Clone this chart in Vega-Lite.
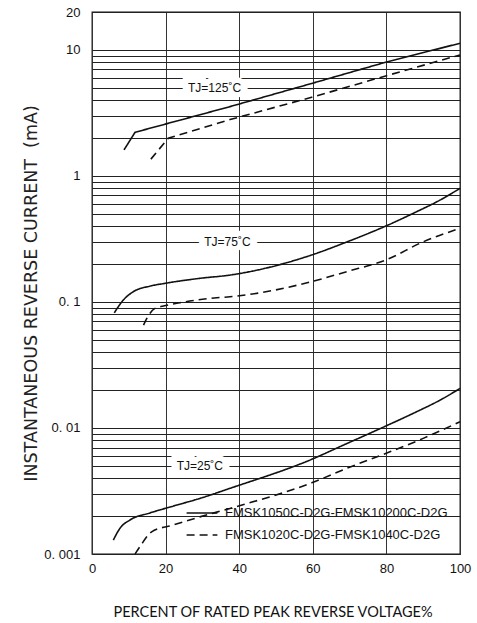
{
  "$schema": "https://vega.github.io/schema/vega-lite/v6.json",
  "autosize": "none",
  "width": 368,
  "height": 542,
  "padding": {"left": 92, "top": 12, "right": 17, "bottom": 69},
  "background": "white",
  "datasets": {
    "curves": [
      {"curve": "125s", "shape": "straight", "series": "FMSK1050C-D2G-FMSK10200C-D2G", "x": 8.7, "y": 1.61},
      {"curve": "125s", "shape": "straight", "series": "FMSK1050C-D2G-FMSK10200C-D2G", "x": 11.7, "y": 2.22},
      {"curve": "125s", "shape": "straight", "series": "FMSK1050C-D2G-FMSK10200C-D2G", "x": 37.5, "y": 3.55},
      {"curve": "125s", "shape": "straight", "series": "FMSK1050C-D2G-FMSK10200C-D2G", "x": 59.7, "y": 5.42},
      {"curve": "125s", "shape": "straight", "series": "FMSK1050C-D2G-FMSK10200C-D2G", "x": 79.8, "y": 7.99},
      {"curve": "125s", "shape": "straight", "series": "FMSK1050C-D2G-FMSK10200C-D2G", "x": 100, "y": 11.3},
      {"curve": "125d", "shape": "straight", "series": "FMSK1020C-D2G-FMSK1040C-D2G", "x": 16.0, "y": 1.36},
      {"curve": "125d", "shape": "straight", "series": "FMSK1020C-D2G-FMSK1040C-D2G", "x": 20.7, "y": 1.99},
      {"curve": "125d", "shape": "straight", "series": "FMSK1020C-D2G-FMSK1040C-D2G", "x": 37.5, "y": 2.8},
      {"curve": "125d", "shape": "straight", "series": "FMSK1020C-D2G-FMSK1040C-D2G", "x": 59.7, "y": 4.21},
      {"curve": "125d", "shape": "straight", "series": "FMSK1020C-D2G-FMSK1040C-D2G", "x": 79.8, "y": 6.22},
      {"curve": "125d", "shape": "straight", "series": "FMSK1020C-D2G-FMSK1040C-D2G", "x": 100, "y": 9.13},
      {"curve": "75s", "shape": "smooth", "series": "FMSK1050C-D2G-FMSK10200C-D2G", "x": 6.06, "y": 0.082},
      {"curve": "75s", "shape": "smooth", "series": "FMSK1050C-D2G-FMSK10200C-D2G", "x": 8.5, "y": 0.1035},
      {"curve": "75s", "shape": "smooth", "series": "FMSK1050C-D2G-FMSK10200C-D2G", "x": 11.2, "y": 0.1205},
      {"curve": "75s", "shape": "smooth", "series": "FMSK1050C-D2G-FMSK10200C-D2G", "x": 15.8, "y": 0.1337},
      {"curve": "75s", "shape": "smooth", "series": "FMSK1050C-D2G-FMSK10200C-D2G", "x": 19.8, "y": 0.1405},
      {"curve": "75s", "shape": "smooth", "series": "FMSK1050C-D2G-FMSK10200C-D2G", "x": 29.3, "y": 0.154},
      {"curve": "75s", "shape": "smooth", "series": "FMSK1050C-D2G-FMSK10200C-D2G", "x": 37.5, "y": 0.1635},
      {"curve": "75s", "shape": "smooth", "series": "FMSK1050C-D2G-FMSK10200C-D2G", "x": 59.7, "y": 0.236},
      {"curve": "75s", "shape": "smooth", "series": "FMSK1050C-D2G-FMSK10200C-D2G", "x": 68.3, "y": 0.292},
      {"curve": "75s", "shape": "smooth", "series": "FMSK1050C-D2G-FMSK10200C-D2G", "x": 79.8, "y": 0.40},
      {"curve": "75s", "shape": "smooth", "series": "FMSK1050C-D2G-FMSK10200C-D2G", "x": 88.2, "y": 0.52},
      {"curve": "75s", "shape": "smooth", "series": "FMSK1050C-D2G-FMSK10200C-D2G", "x": 94.6, "y": 0.644},
      {"curve": "75s", "shape": "smooth", "series": "FMSK1050C-D2G-FMSK10200C-D2G", "x": 100, "y": 0.797},
      {"curve": "75d", "shape": "smooth", "series": "FMSK1020C-D2G-FMSK1040C-D2G", "x": 14.0, "y": 0.0656},
      {"curve": "75d", "shape": "smooth", "series": "FMSK1020C-D2G-FMSK1040C-D2G", "x": 14.9, "y": 0.0741},
      {"curve": "75d", "shape": "smooth", "series": "FMSK1020C-D2G-FMSK1040C-D2G", "x": 17.1, "y": 0.0889},
      {"curve": "75d", "shape": "smooth", "series": "FMSK1020C-D2G-FMSK1040C-D2G", "x": 19.4, "y": 0.0928},
      {"curve": "75d", "shape": "smooth", "series": "FMSK1020C-D2G-FMSK1040C-D2G", "x": 23.9, "y": 0.0986},
      {"curve": "75d", "shape": "smooth", "series": "FMSK1020C-D2G-FMSK1040C-D2G", "x": 33.9, "y": 0.108},
      {"curve": "75d", "shape": "smooth", "series": "FMSK1020C-D2G-FMSK1040C-D2G", "x": 37.5, "y": 0.110},
      {"curve": "75d", "shape": "smooth", "series": "FMSK1020C-D2G-FMSK1040C-D2G", "x": 59.7, "y": 0.145},
      {"curve": "75d", "shape": "smooth", "series": "FMSK1020C-D2G-FMSK1040C-D2G", "x": 69.2, "y": 0.174},
      {"curve": "75d", "shape": "smooth", "series": "FMSK1020C-D2G-FMSK1040C-D2G", "x": 79.8, "y": 0.215},
      {"curve": "75d", "shape": "smooth", "series": "FMSK1020C-D2G-FMSK1040C-D2G", "x": 90.0, "y": 0.30},
      {"curve": "75d", "shape": "smooth", "series": "FMSK1020C-D2G-FMSK1040C-D2G", "x": 100, "y": 0.384},
      {"curve": "25s", "shape": "smooth", "series": "FMSK1050C-D2G-FMSK10200C-D2G", "x": 5.8, "y": 0.00129},
      {"curve": "25s", "shape": "smooth", "series": "FMSK1050C-D2G-FMSK10200C-D2G", "x": 7.6, "y": 0.0016},
      {"curve": "25s", "shape": "smooth", "series": "FMSK1050C-D2G-FMSK10200C-D2G", "x": 10.3, "y": 0.00186},
      {"curve": "25s", "shape": "smooth", "series": "FMSK1050C-D2G-FMSK10200C-D2G", "x": 15.8, "y": 0.00212},
      {"curve": "25s", "shape": "smooth", "series": "FMSK1050C-D2G-FMSK10200C-D2G", "x": 22.1, "y": 0.0024},
      {"curve": "25s", "shape": "smooth", "series": "FMSK1050C-D2G-FMSK10200C-D2G", "x": 29.3, "y": 0.00276},
      {"curve": "25s", "shape": "smooth", "series": "FMSK1050C-D2G-FMSK10200C-D2G", "x": 37.5, "y": 0.00332},
      {"curve": "25s", "shape": "smooth", "series": "FMSK1050C-D2G-FMSK10200C-D2G", "x": 59.7, "y": 0.00564},
      {"curve": "25s", "shape": "smooth", "series": "FMSK1050C-D2G-FMSK10200C-D2G", "x": 68.3, "y": 0.00731},
      {"curve": "25s", "shape": "smooth", "series": "FMSK1050C-D2G-FMSK10200C-D2G", "x": 79.8, "y": 0.01035},
      {"curve": "25s", "shape": "smooth", "series": "FMSK1050C-D2G-FMSK10200C-D2G", "x": 88.2, "y": 0.01345},
      {"curve": "25s", "shape": "smooth", "series": "FMSK1050C-D2G-FMSK10200C-D2G", "x": 94.6, "y": 0.01665},
      {"curve": "25s", "shape": "smooth", "series": "FMSK1050C-D2G-FMSK10200C-D2G", "x": 100, "y": 0.0206},
      {"curve": "25d", "shape": "smooth", "series": "FMSK1020C-D2G-FMSK1040C-D2G", "x": 11.7, "y": 0.001},
      {"curve": "25d", "shape": "smooth", "series": "FMSK1020C-D2G-FMSK1040C-D2G", "x": 13.0, "y": 0.00114},
      {"curve": "25d", "shape": "smooth", "series": "FMSK1020C-D2G-FMSK1040C-D2G", "x": 16.2, "y": 0.0015},
      {"curve": "25d", "shape": "smooth", "series": "FMSK1020C-D2G-FMSK1040C-D2G", "x": 22.1, "y": 0.0017},
      {"curve": "25d", "shape": "smooth", "series": "FMSK1020C-D2G-FMSK1040C-D2G", "x": 29.3, "y": 0.00197},
      {"curve": "25d", "shape": "smooth", "series": "FMSK1020C-D2G-FMSK1040C-D2G", "x": 37.5, "y": 0.0023},
      {"curve": "25d", "shape": "smooth", "series": "FMSK1020C-D2G-FMSK1040C-D2G", "x": 59.7, "y": 0.00367},
      {"curve": "25d", "shape": "smooth", "series": "FMSK1020C-D2G-FMSK1040C-D2G", "x": 69.2, "y": 0.00478},
      {"curve": "25d", "shape": "smooth", "series": "FMSK1020C-D2G-FMSK1040C-D2G", "x": 79.8, "y": 0.00628},
      {"curve": "25d", "shape": "smooth", "series": "FMSK1020C-D2G-FMSK1040C-D2G", "x": 90.0, "y": 0.00827},
      {"curve": "25d", "shape": "smooth", "series": "FMSK1020C-D2G-FMSK1040C-D2G", "x": 100, "y": 0.0112}
    ],
    "labels": [
      {"x": 33.3, "y": 5.0, "text": "TJ=125˚C"},
      {"x": 36.8, "y": 0.3, "text": "TJ=75˚C"},
      {"x": 29.3, "y": 0.005, "text": "TJ=25˚C"}
    ]
  },
  "encoding": {
    "x": {
      "type": "quantitative",
      "scale": {"domain": [0, 100], "nice": false, "zero": false},
      "axis": {
        "values": [0, 20, 40, 60, 80, 100],
        "title": "PERCENT OF RATED PEAK REVERSE VOLTAGE%",
        "titleFont": "Lato",
        "titleFontSize": 14.5,
        "titleFontWeight": "normal",
        "titleColor": "#111",
        "titleX": 180.5,
        "titleY": 62,
        "titleBaseline": "alphabetic",
        "labelFont": "Liberation Sans",
        "labelFontSize": 13,
        "labelColor": "#111",
        "labelPadding": 8,
        "labelFlush": false,
        "labelOverlap": false,
        "ticks": false,
        "domain": false,
        "grid": true,
        "gridColor": "#333",
        "gridWidth": 1
      }
    },
    "y": {
      "type": "quantitative",
      "scale": {"type": "log", "domain": [0.001, 20], "nice": false},
      "axis": {
        "values": [0.001, 0.002, 0.003, 0.004, 0.005, 0.006, 0.007, 0.008, 0.009,
                   0.01, 0.02, 0.03, 0.04, 0.05, 0.06, 0.07, 0.08, 0.09,
                   0.1, 0.2, 0.3, 0.4, 0.5, 0.6, 0.7, 0.8, 0.9,
                   1, 2, 3, 4, 5, 6, 7, 8, 9, 10, 20],
        "labelExpr": "datum.value == 0.001 ? '0. 001' : datum.value == 0.01 ? '0. 01' : datum.value == 0.1 ? '0. 1' : datum.value == 1 ? '1' : datum.value == 10 ? '10' : datum.value == 20 ? '20' : ''",
        "title": "INSTANTANEOUS REVERSE CURRENT\u00a0\u00a0(mA)",
        "titleFont": "DejaVu Sans",
        "titleFontSize": 17.5,
        "titleFontWeight": "normal",
        "titleColor": "#222",
        "titleX": -56,
        "titleY": 281,
        "titleAngle": 270,
        "titleBaseline": "alphabetic",
        "titleAlign": "center",
        "labelFont": "Liberation Sans",
        "labelFontSize": 13,
        "labelColor": "#111",
        "labelPadding": 12,
        "labelFlush": false,
        "labelOverlap": false,
        "labelBound": false,
        "ticks": false,
        "domain": false,
        "grid": true,
        "gridColor": "#222",
        "gridWidth": 1
      }
    }
  },
  "layer": [
    {
      "mark": {"type": "rect", "fill": "white", "stroke": null},
      "encoding": {
        "x": {"datum": 19.3},
        "x2": {"datum": 100},
        "y": {"datum": 0.001},
        "y2": {"datum": 0.00258}
      }
    },
    {
      "data": {"name": "curves"},
      "transform": [{"filter": "datum.shape == 'straight'"}],
      "mark": {"type": "line", "interpolate": "linear", "color": "#111", "strokeWidth": 1.6},
      "encoding": {
        "x": {"field": "x", "type": "quantitative"},
        "y": {"field": "y", "type": "quantitative"},
        "detail": {"field": "curve"},
        "strokeDash": {
          "field": "series",
          "type": "nominal",
          "sort": null,
          "scale": {
            "domain": ["FMSK1050C-D2G-FMSK10200C-D2G", "FMSK1020C-D2G-FMSK1040C-D2G"],
            "range": [[1, 0], [8, 5]]
          },
          "legend": {
            "title": null,
            "orient": "bottom-right",
            "offset": 0,
            "padding": 12,
            "fillColor": null,
            "strokeColor": null,
            "symbolType": "M-0.4,0H2.4",
            "symbolSize": 484,
            "symbolStrokeWidth": 1.5,
            "symbolStrokeColor": "#111",
            "rowPadding": 3,
            "labelOffset": 22,
            "labelFont": "Liberation Sans",
            "labelFontSize": 13,
            "labelColor": "#111",
            "labelLimit": 400
          }
        }
      }
    },
    {
      "data": {"name": "curves"},
      "transform": [{"filter": "datum.shape == 'smooth'"}],
      "mark": {"type": "line", "interpolate": "monotone", "color": "#111", "strokeWidth": 1.6},
      "encoding": {
        "x": {"field": "x", "type": "quantitative"},
        "y": {"field": "y", "type": "quantitative"},
        "detail": {"field": "curve"},
        "strokeDash": {"field": "series", "type": "nominal", "sort": null}
      }
    },
    {
      "data": {"name": "labels"},
      "mark": {"type": "text", "font": "Liberation Sans", "fontSize": 12, "fill": "white", "stroke": "white", "strokeWidth": 11, "strokeJoin": "miter"},
      "encoding": {
        "x": {"field": "x", "type": "quantitative"},
        "y": {"field": "y", "type": "quantitative"},
        "text": {"field": "text"}
      }
    },
    {
      "data": {"name": "labels"},
      "mark": {"type": "text", "font": "Liberation Sans", "fontSize": 12, "fill": "#111"},
      "encoding": {
        "x": {"field": "x", "type": "quantitative"},
        "y": {"field": "y", "type": "quantitative"},
        "text": {"field": "text"}
      }
    }
  ],
  "config": {
    "view": {"stroke": "#111", "strokeWidth": 1.3}
  }
}
